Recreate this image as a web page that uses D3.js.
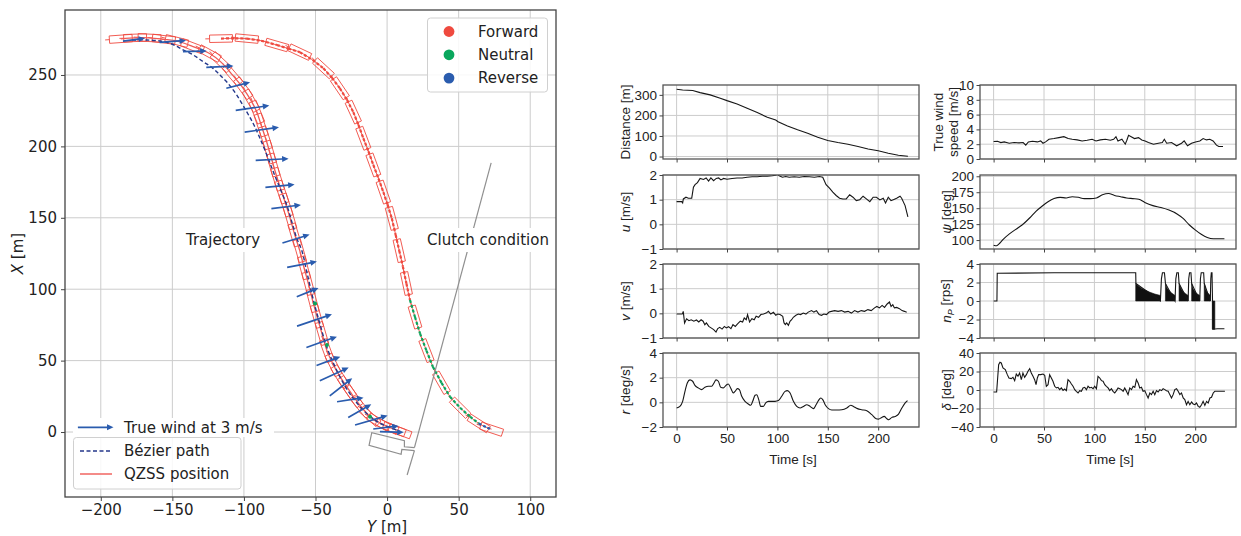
<!DOCTYPE html>
<html lang="en">
<head>
<meta charset="UTF-8">
<title>Berthing trajectory and time series</title>
<script src="https://d3js.org/d3.v7.min.js"></script>
<style>
  body { margin: 0; background: #fff; }
  .grid line { stroke: #cccccc; stroke-width: 1; }
  .axis path { display: none; }
  .axis line { stroke: #444; }
</style>
</head>
<body>
<script>
// ---------- trajectory panel data (Y [m], X [m]) ----------
var track1 = [[-186,275.3],[-176,276],[-166,276],[-156,275],[-147,273.8],[-136,270],[-124,265],[-116,259],[-108,250],[-100.5,240.7],
  [-95,232],[-91,224],[-88,215],[-85,206],[-82,196],[-79.5,187],[-76.5,177],[-73.6,168],[-70.6,159],[-67.8,150],[-64.5,138],
  [-61,127],[-58,115],[-55,104],[-52,92],[-49,81],[-45.5,69],[-42,57],[-37.5,47],[-33,39],[-28,31.5],[-23.6,25],[-18,17.5],
  [-12,11],[-6,7],[0,4],[5,2],[9,0.5]];
var bezier1 = [[-178,274.5],[-168,274.5],[-158.7,273.8],[-150,271.5],[-142.4,267.5],[-135.4,264],[-128.5,259.3],[-122,255],
  [-116.8,250],[-111,244],[-105.1,236],[-98.1,224.3],[-93,215],[-88.8,205.7],[-84,194],[-79.5,182.3],[-74.8,170.7],[-70.1,159],
  [-66.5,147],[-63.1,135.6],[-59.7,127.5],[-55.6,110],[-51.5,92.4],[-47,76],[-42.2,59.7],[-36.5,46],[-30.5,34.1],[-25,25.5],
  [-18.9,17.7],[-12,11],[-4.9,6.1],[1,3.5],[6.8,1.4]];
var neutral1 = [[-50.3,90],[-42,61],[-11.9,10.7]];
var track2 = [[-116,275.5],[-106,275.7],[-98,275.5],[-88,274],[-77,271],[-69,268.5],[-61,266],[-52,260.5],[-44.5,254.7],
  [-38.5,248],[-33,240.7],[-28,232.5],[-23.6,224],[-20,215],[-16.6,205.7],[-13,196.5],[-9.6,187],[-6,177.5],[-2.6,168],
  [0.4,159],[3.3,149.6],[6,138],[8.5,127],[11,116],[13.5,104],[16,92.4],[19.5,80.5],[23,69],[27.5,57],[32,45.7],[38,34.5],
  [44,24.7],[51,17],[58,10.7],[64,6],[70,3],[73,2]];
// clutch state of each track2 segment: F forward, N neutral, R reverse
var clutch2 = ["F","F","F","F","F","F","F","F","F","F","F","F","F","F","F","F","F","F","F","F","F","F","F","F","F",
  "N","N","N","N","N","N","N","N","N","R","R"];
// wind arrows: [Y, X, east m/s, north m/s]
var windArrows = [[-176.8,274.7,1.86,0.23],[-149.7,273.5,2.23,0.17],[-134.3,266.6,2.0,0.06],[-116.8,255.8,2.29,0.11],
  [-104,242.8,2.0,0.51],[-94,226.9,2.83,0.4],[-87.5,211.7,2.89,0.4],[-80.3,190.8,2.77,0.14],[-74.8,172.3,2.46,0.23],
  [-70.5,157.7,2.49,0.31],[-63.6,135.3,2.29,0.71],[-59.4,117.3,2.51,0.49],[-55.5,97.8,1.83,0.74],[-50.7,78.3,2.94,1.0],
  [-45.7,63,2.57,0.91],[-41,49.7,2.0,0.74],[-36.9,40.5,2.43,1.11],[-32.2,31.5,1.89,1.49],[-25.7,22.6,2.23,0.34],
  [-19.1,14.8,1.94,1.11],[-11,8.2,2.74,0.8],[-0.8,3.2,2.14,0.26],[3.3,0,2.0,-0.06]];
var quayNorth = [[72.7,188.4],[19.1,-10.9]];
var pier = [[19.1,-10.9],[12.1,-10.3],[12.1,-6.1],[-10.7,-0.5],[-12.6,-9.3],[9.8,-15.6],[10.3,-12.1],[19.1,-13]];
var quaySouth = [[19.1,-13],[14,-30.1]];
var yTicksL = [-200,-150,-100,-50,0,50,100];
var xTicksL = [0,50,100,150,200,250];
var clutchNames = ["Forward","Neutral","Reverse"];

// ---------- time series data [t s, value] ----------
var dist = [[0,327],[6,324],[16,321],[23.3,311],[33.3,300],[43.3,284],[50,272],[60,256],[70,235],[80,214],[90,191],[98.3,178],
  [100.7,169],[110,149],[120,130],[130,113],[140,94],[150,78],[160,68],[170,60],[180,49],[190,37],[200,28],[210,16],[220,6],[229.5,1]];
var uVel = [[0,0.92],[5,0.92],[6,0.87],[6.7,1.03],[9.3,1.1],[11.7,1.06],[15,1.06],[16.7,1.51],[18.3,1.61],[20.7,1.69],[23.3,1.86],
  [26.7,1.82],[29.3,1.88],[31.7,1.75],[34,1.88],[36.7,1.77],[39.3,1.86],[41.7,1.88],[44,1.8],[46.7,1.86],[50,1.83],[55,1.86],
  [60,1.88],[65,1.88],[70,1.91],[75,1.93],[80,1.93],[85,1.95],[90,1.95],[95,1.97],[98.3,1.99],[100,2.03],[101.7,1.97],[105,1.91],
  [108.3,1.94],[111.7,1.91],[116.7,1.93],[121.7,1.91],[126.7,1.94],[131.7,1.93],[136.7,1.91],[141.7,1.94],[145,1.91],[148.3,1.61],
  [151.7,1.47],[155,1.31],[158.3,1.17],[161.7,1.06],[165,1.03],[168.3,1.03],[171.7,1.2],[175,1.1],[178.3,0.96],[181.7,1],[185,1.14],
  [188.3,1.03],[191.7,0.92],[195,1.1],[198.3,1.1],[201.7,0.99],[205,1.06],[207.3,0.87],[210,1.1],[212.7,0.96],[215,1],[218.3,1.06],
  [221.7,1.14],[223.3,1.06],[226.7,0.76],[229.5,0.3]];
var vVel = [[0,-0.03],[5.6,-0.03],[6.6,0.08],[7.9,-0.39],[9.9,-0.22],[12.2,-0.3],[14.5,-0.26],[17.1,-0.32],[19.7,-0.27],[22,-0.35],
  [24.3,-0.26],[26.3,-0.32],[28,-0.46],[29.6,-0.39],[31.9,-0.53],[34.2,-0.59],[36.8,-0.66],[39.1,-0.76],[40.8,-0.62],[42.8,-0.57],
  [45.1,-0.64],[47.4,-0.53],[49.3,-0.59],[51.6,-0.54],[53.9,-0.62],[55.9,-0.46],[58.2,-0.53],[60.5,-0.43],[63.2,-0.32],[65.5,-0.35],
  [67.1,-0.19],[69.1,-0.26],[70.4,-0.05],[72.4,-0.35],[74.7,-0.22],[77,-0.26],[78.9,-0.12],[81.3,-0.16],[83.6,-0.05],[86.2,-0.03],
  [88.8,0.01],[91.1,0.08],[93.4,-0.03],[96.1,0.04],[98.4,-0.08],[100.3,-0.03],[102.6,-0.05],[105.3,-0.12],[106.6,-0.39],[107.9,-0.46],
  [109.2,-0.39],[110.9,-0.49],[112.5,-0.32],[114.1,-0.26],[115.8,-0.16],[118.4,-0.08],[120.7,-0.03],[123,-0.05],[125.7,0.01],
  [128.3,-0.03],[130.6,0.05],[133.9,0.11],[136.2,0.05],[138.8,0.11],[141.4,-0.05],[143.8,-0.08],[146.1,-0.03],[148.7,-0.05],
  [151.3,0.05],[153.6,0.08],[156.9,0.11],[160.2,0.08],[163.5,0.11],[166.8,0.05],[170.1,0.08],[173.4,0.01],[176.6,0.11],[179.9,0.05],
  [183.2,0.11],[186.5,0.08],[189.8,0.15],[193.1,0.11],[196.4,0.22],[198.7,0.28],[201.3,0.22],[203.9,0.32],[206.3,0.24],[208.9,0.38],
  [211.2,0.46],[212.8,0.28],[214.5,0.35],[216.1,0.22],[218.4,0.24],[221.1,0.19],[223.7,0.11],[226,0.08],[228.3,0.04]];
var rRate = [[0,-0.46],[3.3,-0.33],[6,0.08],[8.3,0.89],[10.6,1.57],[13.2,1.82],[15.9,1.71],[18.2,1.38],[21.5,1.17],[24.8,1.03],
  [28.1,1.22],[31.5,1.3],[34.8,1.3],[37.1,1.57],[39.1,1.82],[41.4,1.71],[43.7,1.22],[46.4,1.17],[49,1.38],[51.3,1.49],[53.6,1.17],
  [56.3,0.76],[58,0.89],[60.3,1.11],[62.3,1.03],[64.6,0.49],[67.9,0.08],[71.2,-0.14],[73.5,-0.24],[75.5,0.08],[77.8,0.57],[79.5,0.62],
  [81.5,0.22],[83.4,-0.33],[86.1,-0.33],[88.4,-0.05],[91.1,0.08],[94.4,0.08],[97.7,0.08],[101,0.14],[104.3,0.49],[107.6,0.89],
  [109.9,0.95],[112.6,0.76],[115.9,0.08],[119.2,-0.33],[122.5,-0.46],[125.8,-0.33],[129.1,-0.19],[132.5,-0.33],[135.8,-0.51],
  [138.4,-0.19],[140.7,0.14],[143,0.35],[145,0.22],[147.4,-0.19],[150.7,-0.51],[154,-0.62],[158.9,-0.62],[163.9,-0.6],[168.9,-0.46],
  [172.8,-0.24],[175.5,-0.33],[179.5,-0.51],[183.8,-0.6],[188.7,-0.68],[193.7,-1],[198,-1.33],[200.3,-1.36],[203.6,-1.22],
  [205.9,-1.14],[208.6,-1.33],[210.6,-1.41],[213.6,-1.22],[216.9,-1.14],[220.2,-0.95],[223.5,-0.46],[226.8,-0.05],[229.1,0.14]];
var windSpeed = [[0,2.36],[3.9,2.4],[7.2,2.22],[10.5,2.31],[15.5,2.13],[20.4,2.22],[25.3,2.18],[29.3,2.22],[31.9,1.87],[34.5,2.31],
  [38.5,2.4],[43.4,2.31],[46.7,2.44],[49,2.13],[51.6,2.31],[54.9,2.67],[59.9,2.76],[64.8,2.89],[69.7,3.02],[74,2.76],[78,2.67],
  [82.9,2.58],[87.8,2.44],[92.8,2.53],[97.7,2.67],[101.6,2.44],[105.9,2.58],[110.9,2.67],[115.8,2.53],[119.1,2.67],[121.4,3.02],
  [123.4,2.44],[127.3,2.67],[130.6,2.0],[132.2,2.53],[133.9,3.2],[136.5,3.02],[139.8,2.76],[143.8,2.89],[147,2.58],[150.3,2.44],
  [153.6,2.22],[158.6,2.0],[163.5,2.13],[167.4,2.22],[169.4,2.67],[171.7,2.13],[176.6,2.22],[181.6,1.78],[186.5,2.13],[189.1,2.44],
  [192.4,1.78],[196.4,2.13],[200.3,2.31],[204.6,2.44],[207.9,2.76],[211.2,2.58],[214.5,2.67],[217.8,2.44],[221.1,1.87],[223.4,1.69],
  [227.6,1.69]];
var psi = [[0,92],[3,91],[6,95],[10,102],[16,110],[24,119],[30,126],[36,135],[42,145],[48,153],[54,160],[60,165],[66,167],[72,166],
  [78,168],[84,167],[90,165],[96,165],[102,166],[108,171],[114,173],[120,170],[126,168],[132,166],[138,165],[144,164],[150,159],
  [158,154],[166,151],[174,147],[182,141],[188,134],[194,124],[200,116],[206,109],[212,104],[218,102],[224,102],[229,102]];
var nProp = [[0,0],[3.3,0],[3.6,3.0],[60,3.05],[141,3.05],[141.2,1.9],[165.5,0],[166.5,2.4],[167.5,3.05],[169.5,3.05],[170.5,1.9],
  [180,0],[180.8,2.4],[181.8,3.05],[183.3,3.05],[184,1.9],[193,0],[193.6,2.4],[194.4,3.05],[195.8,3.05],[196.5,1.9],[204.5,0],
  [205.2,2.4],[206,3.05],[208.4,3.05],[209,1.9],[215,0],[215.5,2.4],[216,3.05],[216.7,3.05],[217.2,0],[217.6,-3.05],[222,-3.0],[229,-3.0]];
// envelopes of the dense on/off switching (filled down to 0)
var nPropBands = [
  [[141,1.9],[144,1.6],[147,1.35],[151,1.15],[155,0.95],[160,0.75],[165.5,0.6]],
  [[170.5,1.9],[172,1.4],[175,1.0],[178,0.75],[180,0.6]],
  [[184,1.9],[186,1.3],[189,0.9],[193,0.6]],
  [[196.5,1.9],[198,1.3],[201,0.85],[204.5,0.6]],
  [[209,1.9],[210.5,1.2],[213,0.8],[215,0.6]],
  [[217,-3.05],[219.5,-3.05]]];
var delta = [[0,-2.2],[3,-2.2],[5,27.4],[6.3,29.9],[7.6,29.2],[9.3,23.8],[11.6,22],[13.6,16.6],[15.2,13],[17.5,12.3],[19.2,13.7],
  [20.9,10.1],[22.5,17.3],[24.2,14.8],[25.8,18.4],[27.5,11.2],[29.1,18.4],[30.8,13.7],[32.5,16.6],[34.1,20.2],[35.8,23.1],[37.4,18.4],
  [39.1,14.8],[40.7,11.2],[42.1,5.8],[43.4,13],[44.7,16.6],[46.7,16.6],[49,17.3],[50.7,15.9],[52.3,4],[54,5.8],[55.6,16.6],[57.3,13],
  [58.9,9.4],[60.6,4],[62.3,2.2],[63.9,2.9],[65.6,0.4],[67.2,2.2],[68.9,-0.4],[70.5,1.1],[72.2,-0.7],[73.8,11.2],[75.5,9.4],[77.2,6.5],
  [78.8,4],[80.5,0.4],[82.1,-1.4],[83.8,-3.2],[85.4,-0.7],[87.1,-1.4],[88.7,2.2],[90.4,2.9],[92.1,0.4],[93.7,4],[95.4,2.2],[97,2.9],
  [98.7,1.4],[100.3,4],[102,1.4],[103.6,14.8],[105.3,13],[107,10.1],[108.6,9.4],[110.3,5.8],[111.9,4],[113.6,2.2],[115.2,-0.7],
  [116.9,1.4],[118.5,-1.4],[120.2,-3.2],[121.9,-0.7],[123.5,2.2],[125.2,1.4],[126.8,0.4],[128.5,-1.4],[130.1,2.2],[131.8,-1.4],
  [133.4,-5],[135.1,2.2],[136.8,0.4],[138.4,4],[140.1,2.9],[141.7,11.2],[143.4,7.6],[145,2.2],[146.7,2.9],[148.3,-1.4],[150,-0.7],
  [151.7,-5],[153.3,-8.6],[155,-3.2],[156.6,-5],[158.3,-1.4],[159.9,-5],[161.6,-0.7],[163.2,-2.2],[164.9,0.4],[166.6,-0.7],[168.2,1.4],
  [169.9,0.4],[171.5,-0.7],[173.2,-1.4],[174.8,-5],[176.5,-8.6],[178.1,-5],[179.8,0.4],[181.5,1.4],[183.1,-1.4],[184.8,-5],[186.4,-3.2],
  [188.1,-8.6],[189.7,-10.4],[191.4,-15.9],[193,-12.3],[194.7,-15.9],[196.4,-13],[198,-15.1],[199.7,-15.9],[201.3,-14.1],[203,-17.7],
  [204.6,-18.7],[206.3,-15.9],[207.9,-12.3],[209.6,-16.6],[211.3,-12.3],[212.9,-14.1],[214.6,-8.6],[216.2,-7.9],[217.9,-3.2],
  [219.5,-1.4],[222.8,-1.4],[229.5,-1.4]];
var timeTicks = [0,50,100,150,200];

// ---------- colours / sizes ----------
var red = "#ef4a3f", green = "#0aa75d", blue = "#2a5cae", navy = "#24378a";
var clutchColor = {F: red, N: green, R: blue};
var shipL = 16, shipB = 5.2, windScale = 8.3; // m, m, m per (m/s)

var svg = d3.select("body").append("svg")
    .attr("width", 1241).attr("height", 536)
    .style("font-family", "DejaVu Sans");

// ================= left: trajectory =================
var box = {left: 65, right: 556, top: 10, bottom: 497};
var x = d3.scaleLinear().domain([-225, 118]).range([box.left, box.right]);
var y = d3.scaleLinear().domain([-45.5, 295.5]).range([box.bottom, box.top]);

svg.append("clipPath").attr("id", "clipL").append("rect")
    .attr("x", box.left).attr("y", box.top)
    .attr("width", box.right - box.left).attr("height", box.bottom - box.top);

var gridL = svg.append("g").attr("class", "grid");
gridL.selectAll(".v").data(yTicksL).enter().append("line")
    .attr("x1", function(d) { return x(d); }).attr("x2", function(d) { return x(d); })
    .attr("y1", box.top).attr("y2", box.bottom);
gridL.selectAll(".h").data(xTicksL).enter().append("line")
    .attr("y1", function(d) { return y(d); }).attr("y2", function(d) { return y(d); })
    .attr("x1", box.left).attr("x2", box.right);

var plotL = svg.append("g").attr("clip-path", "url(#clipL)");
var lineL = d3.line().x(function(d) { return x(d[0]); }).y(function(d) { return y(d[1]); });

// ship outline at point i of a track, heading taken from neighbours
function shipPath(pts, i) {
    var a = pts[Math.max(i - 1, 0)], b = pts[Math.min(i + 1, pts.length - 1)];
    var dy = b[0] - a[0], dx = b[1] - a[1], n = Math.hypot(dy, dx);
    var uy = dy / n, ux = dx / n, py = -ux, px = uy;
    var c = pts[i];
    function pt(s, w) { return [x(c[0] + s * uy + w * py), y(c[1] + s * ux + w * px)]; }
    var p = [pt(shipL / 2, shipB / 2), pt(shipL / 2, -shipB / 2), pt(-shipL / 2, -shipB / 2), pt(-shipL / 2, shipB / 2)];
    var s1 = pt(-shipL / 2, 0), s2 = pt(-shipL / 2 - 3, 0);
    return "M" + p.join("L") + "Z M" + s1 + "L" + s2;
}

// every ship pose on the first run, every other one on the second
[[track1, 1], [track2, 2]].forEach(function(o) {
    var tr = o[0];
    plotL.append("g").selectAll("path")
        .data(tr.filter(function(d, i) { return i % o[1] === 0; })).enter().append("path")
        .attr("d", function(d) { return shipPath(tr, tr.indexOf(d)); })
        .attr("fill", "none").attr("stroke", red).attr("stroke-width", 0.9);
});

plotL.append("path").datum(track1).attr("d", lineL.curve(d3.curveCatmullRom))
    .attr("fill", "none").attr("stroke", "#f05a55").attr("stroke-width", 1.3);
plotL.append("path").datum(bezier1).attr("d", lineL.curve(d3.curveCatmullRom))
    .attr("fill", "none").attr("stroke", navy).attr("stroke-width", 1.4).attr("stroke-dasharray", "4,2.5");
plotL.append("path").datum(track2).attr("d", lineL.curve(d3.curveCatmullRom))
    .attr("fill", "none").attr("stroke", "#f05a55").attr("stroke-width", 1);

// clutch state along second track
plotL.append("g").selectAll("line").data(clutch2).enter().append("line")
    .attr("x1", function(d, i) { return x(track2[i][0]); }).attr("y1", function(d, i) { return y(track2[i][1]); })
    .attr("x2", function(d, i) { return x(track2[i + 1][0]); }).attr("y2", function(d, i) { return y(track2[i + 1][1]); })
    .attr("stroke", function(d) { return clutchColor[d]; })
    .attr("stroke-width", 2.2).attr("stroke-dasharray", "3,2");
plotL.append("g").selectAll("circle").data(neutral1).enter().append("circle")
    .attr("cx", function(d) { return x(d[0]); }).attr("cy", function(d) { return y(d[1]); })
    .attr("r", 2).attr("fill", green);

// quay and pier
[quayNorth, pier, quaySouth].forEach(function(q) {
    plotL.append("path").datum(q).attr("d", lineL.curve(d3.curveLinear))
        .attr("fill", "none").attr("stroke", "#8f8f8f").attr("stroke-width", 1.2);
});

// quiver-style arrow polygon between two pixel points
function arrowPath(x0, y0, x1, y1) {
    var dx = x1 - x0, dy = y1 - y0, len = Math.hypot(dx, dy);
    var ux = dx / len, uy = dy / len, px = -uy, py = ux;
    var sw = 0.85, hw = 3, hl = 6.5;
    var bx = x1 - ux * hl, by = y1 - uy * hl;
    return "M" + [[x0 + px * sw, y0 + py * sw], [bx + px * sw, by + py * sw], [bx + px * hw, by + py * hw], [x1, y1],
        [bx - px * hw, by - py * hw], [bx - px * sw, by - py * sw], [x0 - px * sw, y0 - py * sw]].join("L") + "Z";
}
plotL.append("g").selectAll("path").data(windArrows).enter().append("path")
    .attr("d", function(d) {
        var ey = d[2] * windScale / 2, ex = d[3] * windScale / 2;
        return arrowPath(x(d[0] - ey), y(d[1] - ex), x(d[0] + ey), y(d[1] + ex));
    })
    .attr("fill", blue);

// frame and axes
svg.append("rect").attr("x", box.left).attr("y", box.top)
    .attr("width", box.right - box.left).attr("height", box.bottom - box.top)
    .attr("fill", "none").attr("stroke", "#444").attr("stroke-width", 1.3);

var axB = svg.append("g").attr("class", "axis").attr("transform", "translate(0," + box.bottom + ")")
    .call(d3.axisBottom(x).tickValues(yTicksL).tickSize(4).tickPadding(3).tickFormat(d3.format("d")));
var axLft = svg.append("g").attr("class", "axis").attr("transform", "translate(" + box.left + ",0)")
    .call(d3.axisLeft(y).tickValues(xTicksL).tickSize(4).tickPadding(4).tickFormat(d3.format("d")));
[axB, axLft].forEach(function(a) {
    a.selectAll("text").attr("font-size", 15).attr("font-family", "DejaVu Sans").attr("fill", "#222");
});

var yl = svg.append("text").attr("x", x(0)).attr("y", 532).attr("text-anchor", "middle")
    .attr("font-size", 15).attr("fill", "#222");
yl.append("tspan").attr("font-style", "italic").text("Y");
yl.append("tspan").text(" [m]");
var xl = svg.append("text").attr("transform", "translate(23," + ((box.top + box.bottom) / 2) + ") rotate(-90)")
    .attr("text-anchor", "middle").attr("font-size", 15).attr("fill", "#222");
xl.append("tspan").attr("font-style", "italic").text("X");
xl.append("tspan").text(" [m]");

// annotations with white boxes
function boxedText(tx, ty, str, anchor) {
    var t = svg.append("text").attr("x", tx).attr("y", ty).attr("text-anchor", anchor)
        .attr("font-size", 15).attr("fill", "#222").text(str);
    var bb = t.node().getBBox();
    svg.insert("rect", function() { return t.node(); })
        .attr("x", bb.x - 5).attr("y", bb.y - 3).attr("width", bb.width + 10).attr("height", bb.height + 6)
        .attr("fill", "#fff");
}
boxedText(223, 245, "Trajectory", "middle");
boxedText(427, 245, "Clutch condition", "start");

// clutch legend
svg.append("rect").attr("x", 427.5).attr("y", 18).attr("width", 120).attr("height", 74).attr("rx", 3)
    .attr("fill", "#fff").attr("fill-opacity", 0.85).attr("stroke", "#d0d0d0");
var leg1 = svg.append("g").selectAll("g").data(clutchNames).enter().append("g")
    .attr("transform", function(d, i) { return "translate(449," + (31.5 + i * 23.3) + ")"; });
leg1.append("circle").attr("r", 5.4).attr("fill", function(d) { return clutchColor[d[0]]; });
leg1.append("text").attr("x", 29).attr("dy", "0.35em").attr("font-size", 15).attr("fill", "#222")
    .text(function(d) { return d; });

// wind key
svg.append("rect").attr("x", 73).attr("y", 418).attr("width", 201).attr("height", 19).attr("fill", "#fff");
svg.append("path").attr("d", arrowPath(x(-216), 427.3, x(-216 + 3 * windScale), 427.3)).attr("fill", blue);
svg.append("text").attr("x", 124).attr("y", 427.3).attr("dy", "0.36em").attr("font-size", 15).attr("fill", "#222")
    .text("True wind at 3 m/s");

// path legend
svg.append("rect").attr("x", 73.5).attr("y", 437.5).attr("width", 167.5).attr("height", 51.5).attr("rx", 3)
    .attr("fill", "#fff").attr("fill-opacity", 0.85).attr("stroke", "#d0d0d0");
svg.append("line").attr("x1", 80).attr("x2", 112).attr("y1", 451).attr("y2", 451)
    .attr("stroke", navy).attr("stroke-width", 1.4).attr("stroke-dasharray", "4,2.5");
svg.append("line").attr("x1", 80).attr("x2", 112).attr("y1", 474).attr("y2", 474)
    .attr("stroke", "#f05a55").attr("stroke-width", 1.4);
svg.append("text").attr("x", 124).attr("y", 451).attr("dy", "0.36em").attr("font-size", 15).attr("fill", "#222").text("Bézier path");
svg.append("text").attr("x", 124).attr("y", 474).attr("dy", "0.36em").attr("font-size", 15).attr("fill", "#222").text("QZSS position");

// ================= right: time series =================
var colX = [663, 980], rowY = [85, 175, 264, 353], PW = 256, PH = 74;
var panels = [
    {col: 0, row: 0, data: dist, dom: [-12, 348], ticks: [0, 100, 200, 300], label: [["Distance [m]", ""]]},
    {col: 0, row: 1, data: uVel, dom: [-1, 2], ticks: [-1, 0, 1, 2], label: [["u", "i"], [" [m/s]", ""]]},
    {col: 0, row: 2, data: vVel, dom: [-1, 2], ticks: [-1, 0, 1, 2], label: [["v", "i"], [" [m/s]", ""]]},
    {col: 0, row: 3, data: rRate, dom: [-2, 4], ticks: [-2, 0, 2, 4], label: [["r", "i"], [" [deg/s]", ""]], smooth: true},
    {col: 1, row: 0, data: windSpeed, dom: [0, 10], ticks: [0, 2, 4, 6, 8, 10], label: null},
    {col: 1, row: 1, data: psi, dom: [86, 202], ticks: [100, 125, 150, 175, 200], label: [["ψ", "i"], [" [deg]", ""]], smooth: true},
    {col: 1, row: 2, data: nProp, dom: [-4, 4], ticks: [-4, -2, 0, 2, 4], label: [["n", "i"], ["P", "sub"], [" [rps]", ""]], bands: nPropBands},
    {col: 1, row: 3, data: delta, dom: [-40, 40], ticks: [-40, -20, 0, 20, 40], label: [["δ", "i"], [" [deg]", ""]]}
];

panels.forEach(function(p, k) {
    var x0 = colX[p.col], y0 = rowY[p.row];
    var xt = d3.scaleLinear().domain([-13.5, 240.5]).range([x0, x0 + PW]);
    var yt = d3.scaleLinear().domain(p.dom).range([y0 + PH, y0]);
    var g = svg.append("g").style("font-family", "Liberation Sans, Arial, sans-serif");

    g.append("clipPath").attr("id", "clipP" + k).append("rect")
        .attr("x", x0).attr("y", y0).attr("width", PW).attr("height", PH);

    var gr = g.append("g").attr("class", "grid");
    gr.selectAll(".v").data(timeTicks).enter().append("line")
        .attr("x1", function(d) { return xt(d); }).attr("x2", function(d) { return xt(d); })
        .attr("y1", y0).attr("y2", y0 + PH);
    gr.selectAll(".h").data(p.ticks).enter().append("line")
        .attr("y1", function(d) { return yt(d); }).attr("y2", function(d) { return yt(d); })
        .attr("x1", x0).attr("x2", x0 + PW);

    var inner = g.append("g").attr("clip-path", "url(#clipP" + k + ")");
    if (p.bands) {
        var area = d3.area().x(function(d) { return xt(d[0]); }).y0(yt(0)).y1(function(d) { return yt(d[1]); });
        inner.selectAll(".band").data(p.bands).enter().append("path")
            .attr("d", area).attr("fill", "#111").attr("stroke", "#111").attr("stroke-width", 0.6);
    }
    var ln = d3.line().x(function(d) { return xt(d[0]); }).y(function(d) { return yt(d[1]); });
    if (p.smooth) ln.curve(d3.curveMonotoneX);
    inner.append("path").datum(p.data).attr("d", ln)
        .attr("fill", "none").attr("stroke", "#161616").attr("stroke-width", 1.1);

    g.append("rect").attr("x", x0).attr("y", y0).attr("width", PW).attr("height", PH)
        .attr("fill", "none").attr("stroke", "#555").attr("stroke-width", 1.3);

    var ay = g.append("g").attr("class", "axis").attr("transform", "translate(" + x0 + ",0)")
        .call(d3.axisLeft(yt).tickValues(p.ticks).tickSize(3.5).tickPadding(2.5).tickFormat(d3.format("d")));
    var ax = g.append("g").attr("class", "axis").attr("transform", "translate(0," + (y0 + PH) + ")")
        .call(d3.axisBottom(xt).tickValues(timeTicks).tickSize(3.5).tickPadding(3).tickFormat(d3.format("d")));
    if (p.row !== 3) ax.selectAll("text").remove();
    [ay, ax].forEach(function(a) {
        a.selectAll("text").attr("font-size", 13.5).attr("font-family", "Liberation Sans, Arial, sans-serif").attr("fill", "#222");
    });

    var lx = p.col === 0 ? 625 : 946, ly = y0 + PH / 2;
    if (p.label) {
        var t = g.append("text").attr("transform", "translate(" + lx + "," + ly + ") rotate(-90)")
            .attr("text-anchor", "middle").attr("dy", "0.35em").attr("font-size", 13.5).attr("fill", "#222");
        p.label.forEach(function(s, j) {
            var ts = t.append("tspan").text(s[0]);
            if (s[1] === "i") ts.attr("font-style", "italic");
            if (s[1] === "sub") ts.attr("font-style", "italic").attr("font-size", 9).attr("dy", "0.35em");
            if (s[1] === "" && j > 0 && p.label[j - 1][1] === "sub") ts.attr("dy", "-0.3em");
        });
    } else {
        ["True wind", "speed [m/s]"].forEach(function(s, i) {
            g.append("text").attr("transform", "translate(" + (lx - 8 + i * 15) + "," + ly + ") rotate(-90)")
                .attr("text-anchor", "middle").attr("dy", "0.35em").attr("font-size", 13.5).attr("fill", "#222").text(s);
        });
    }
    if (p.row === 3) {
        g.append("text").attr("x", x0 + PW / 2 + 2).attr("y", 459).attr("dy", "0.35em")
            .attr("text-anchor", "middle").attr("font-size", 13.5).attr("fill", "#222").text("Time [s]");
    }
});
</script>
</body>
</html>
